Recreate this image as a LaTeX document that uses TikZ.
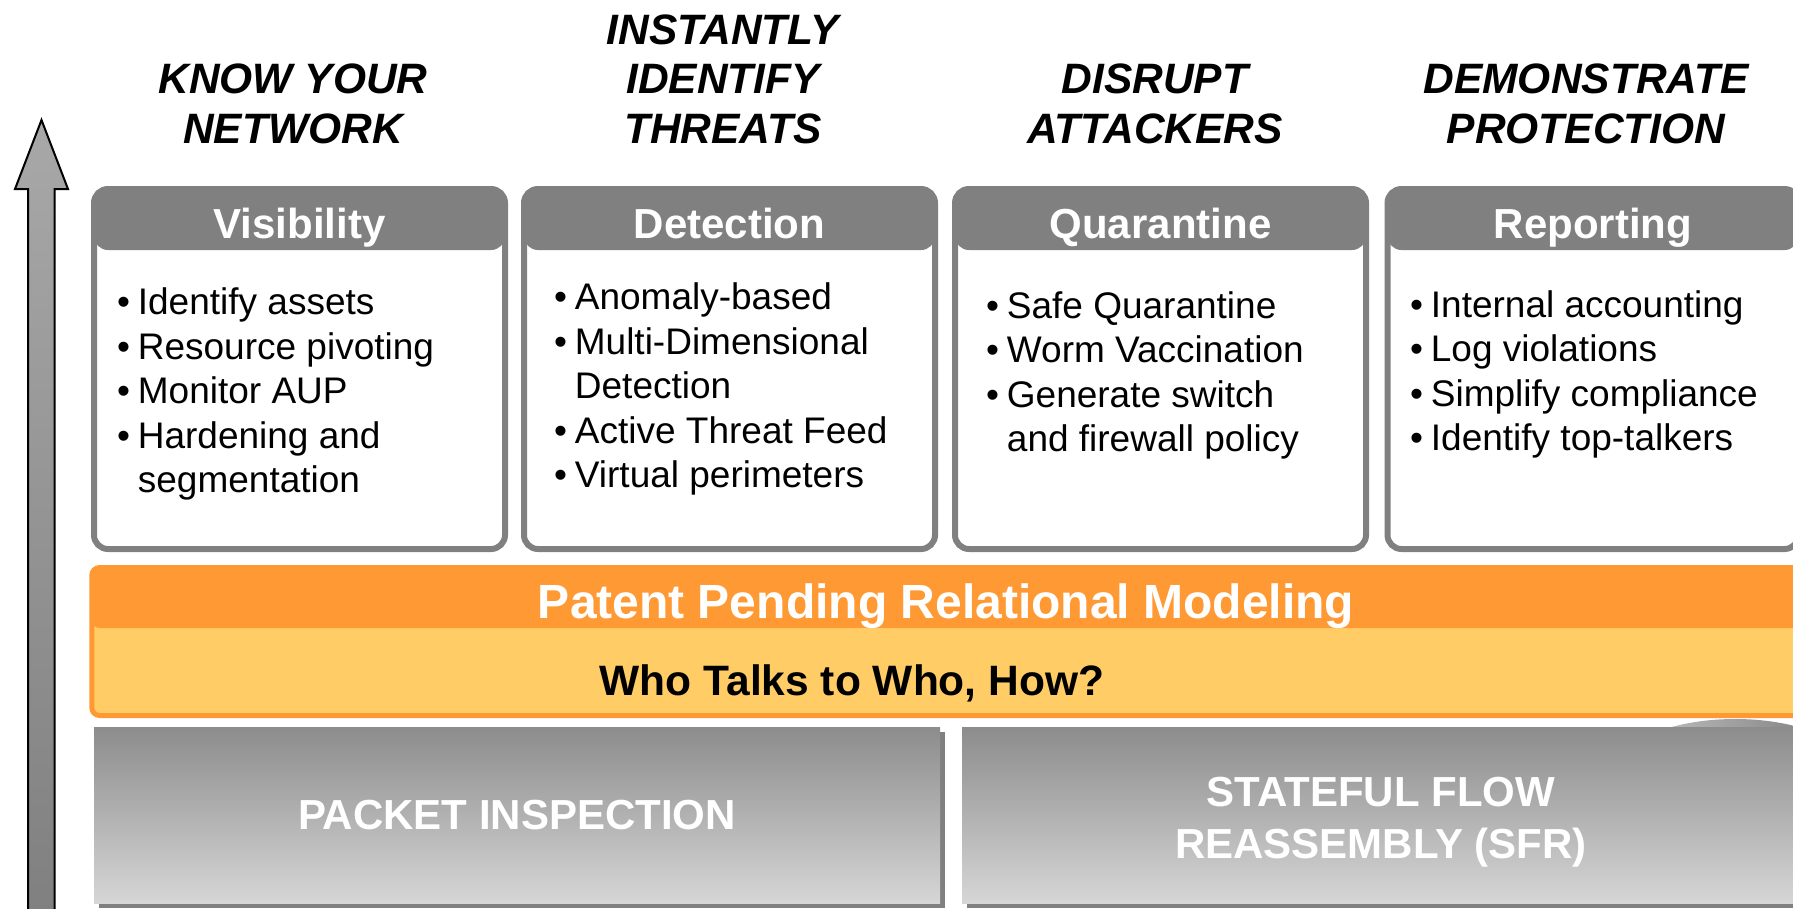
\documentclass[tikz,border=0pt]{standalone}
\usepackage{fontspec}
\setmainfont{Liberation Sans}
\usetikzlibrary{positioning,shadows}

\definecolor{boxgray}{HTML}{808080}
\definecolor{bandorange}{HTML}{FF9933}
\definecolor{bandyellow}{HTML}{FFCC66}
\definecolor{slabtop}{HTML}{8C8C8C}
\definecolor{slabbottom}{HTML}{D6D6D6}
\definecolor{arrowtop}{HTML}{A8A8A8}

% bullet and hanging indent for the pillar lists
\newcommand{\bul}{\makebox[0.56em][l]{\textbullet}}
\newcommand{\ind}{\hspace*{0.56em}}

\begin{document}
\begin{tikzpicture}[x=1pt,y=-1pt,
  goal/.style={font=\fontsize{42.5}{49.5}\selectfont\bfseries\itshape, align=center, inner sep=0pt, anchor=south},
  pillar/.style={draw=boxgray, line width=6pt, fill=white, rounded corners=14pt,
    minimum width=411pt, minimum height=360pt, inner sep=0pt, outer sep=0pt,
    path picture={\fill[boxgray] (path picture bounding box.north west) rectangle ([yshift=-61pt]path picture bounding box.north east);}},
  pillartitle/.style={font=\fontsize{42}{48}\selectfont\bfseries, text=white, inner sep=0pt, anchor=base},
  pillartext/.style={font=\fontsize{37}{44.5}\selectfont, align=left, inner sep=0pt, anchor=north west},
  band/.style={draw=bandorange, line width=5pt, fill=bandyellow, rounded corners=8pt,
    minimum width=1738pt, minimum height=148pt, inner sep=0pt, outer sep=0pt,
    path picture={\fill[bandorange] (path picture bounding box.north west) rectangle ([yshift=-60.5pt]path picture bounding box.north east);}},
  slab/.style={top color=slabtop, bottom color=slabbottom, minimum height=176pt, inner sep=0pt,
    drop shadow={shadow xshift=5pt, shadow yshift=-5pt, fill=boxgray, opacity=1}},
  slabtext/.style={text=white, font=\fontsize{42}{51.5}\selectfont\bfseries, align=center, inner sep=0pt}]
\useasboundingbox (0,0) rectangle (1793,908);
\clip (0,0) rectangle (1793,908);

% rising arrow on the left
\draw[line width=2pt, top color=arrowtop, bottom color=boxgray]
  (28,915) -- (28,189) -- (15,189) -- (41.5,120) -- (68,189) -- (54.5,189) -- (54.5,915) -- cycle;

% goals
\node[goal] (g1) at (293,144) {KNOW YOUR\\NETWORK};
\node[goal] (g2) at (723,144) {INSTANTLY\\IDENTIFY\\THREATS};
\node[goal] (g3) at (1155,144) {DISRUPT\\ATTACKERS};
\node[goal] (g4) at (1586,144) {DEMONSTRATE\\PROTECTION};

% pillars
\node[pillar] (vis) at (299.5,369) {};
\node[pillar] (det) at (729.5,369) {};
\node[pillar] (quar) at (1160.5,369) {};
\node[pillar] (rep) at (1593,369) {};

\node[pillartitle] at ([yshift=-49pt]vis.north) {Visibility};
\node[pillartitle] at ([yshift=-49pt]det.north) {Detection};
\node[pillartitle] at ([yshift=-49pt]quar.north) {Quarantine};
\node[pillartitle] at ([yshift=-49pt]rep.north) {Reporting};

\node[pillartext] (vislist) at (117,287.5) {\bul Identify assets\\\bul Resource pivoting\\\bul Monitor AUP\\\bul Hardening and\\\ind segmentation};
\node[pillartext] (detlist) at (554,282.5) {\bul Anomaly-based\\\bul Multi-Dimensional\\\ind Detection\\\bul Active Threat Feed\\\bul Virtual perimeters};
\node[pillartext] (quarlist) at (986,291) {\bul Safe Quarantine\\\bul Worm Vaccination\\\bul Generate switch\\\ind and firewall policy};
\node[pillartext] (replist) at (1410,290) {\bul Internal accounting\\\bul Log violations\\\bul Simplify compliance\\\bul Identify top-talkers};

% dome peeking out behind the right slab
\shade[left color=white!80!black, right color=black!55] (1735,782) ellipse [x radius=130pt, y radius=63pt];

% relational modeling band
\node[band] (rel) at (960.75,641.5) {};
\node[font=\fontsize{48}{54}\selectfont\bfseries, text=white, inner sep=0pt, anchor=base] (reltitle) at (946,618) {Patent Pending Relational Modeling};
\node[font=\fontsize{42.5}{48}\selectfont\bfseries, inner sep=0pt, anchor=base] (relsub) at (852,695) {Who Talks to Who, How?};

% foundation slabs
\node[slab, minimum width=846pt] (pkt) at (517,815) {};
\node[slab, minimum width=838pt] (sfr) at (1381,815) {};
\node[slabtext] (pkttext) at (pkt.center) {PACKET INSPECTION};
\node[slabtext] (sfrtext) at ([yshift=-7pt]sfr.center) {STATEFUL FLOW\\REASSEMBLY (SFR)};
\end{tikzpicture}
\end{document}
